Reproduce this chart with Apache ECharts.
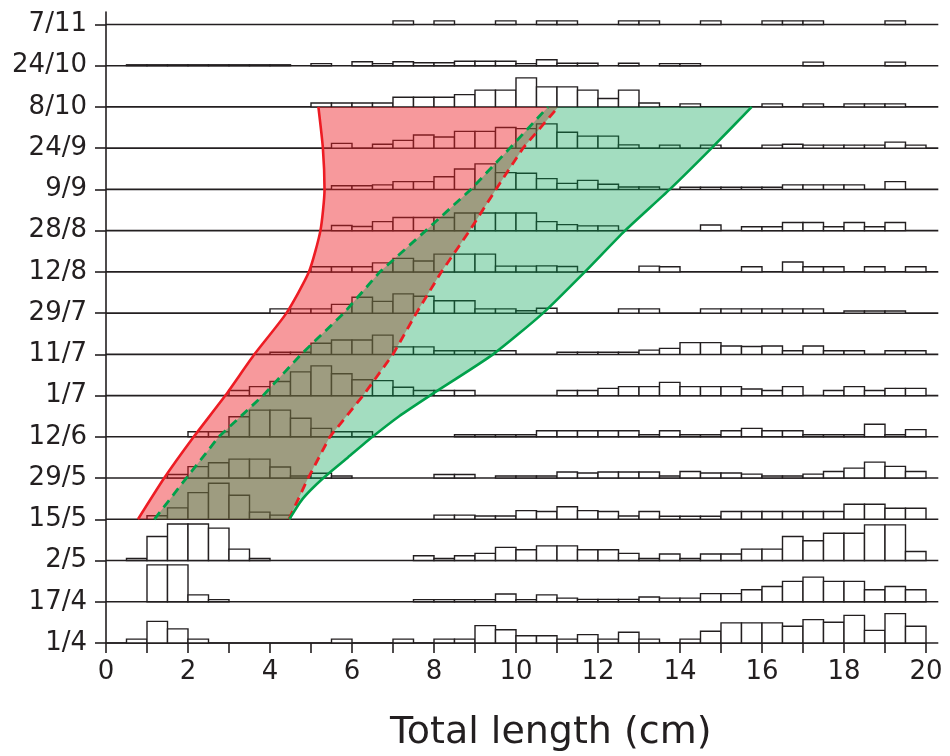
<!DOCTYPE html>
<html><head><meta charset="utf-8">
<script src="https://cdn.jsdelivr.net/npm/echarts@6/dist/echarts.min.js"></script>
<style>html,body{margin:0;padding:0;background:#fff}#c{width:950px;height:756px}</style>
</head><body><div id="c"></div>
<script>
// Sampling dates, bottom row first
const dates = ['1/4','17/4','2/5','15/5','29/5','12/6','1/7','11/7','29/7','12/8','28/8','9/9','24/9','8/10','24/10','7/11'];
const binWidth = 0.5; // cm, bins from 0 to 20
// Length-frequency values per 0.5 cm bin (40 bins), one array per date
const f_01_04 = [0,1.3,7.2,4.7,1.3, 0,0,0,0,0, 0,1.3,0,0,1.3, 0,1.3,1.3,5.8,4.4, 2.4,2.4,1.3,2.8,1.3, 3.6,1.3,0,1.3,3.9, 6.7,6.7,6.7,5.6,7.8, 6.9,9.2,4.2,9.8,5.6];
const f_17_04 = [0,0,12.3,12.3,2.3, 0.7,0,0,0,0, 0,0,0,0,0, 0.7,0.7,0.7,0.7,2.6, 0.7,2.3,1.2,0.8,0.8, 0.8,1.6,1.2,1.2,2.7, 2.7,4,5.1,6.8,8.2, 6.8,6.8,4,5.1,4];
const f_02_05 = [0,0.7,8,12.2,12.2, 10.8,3.8,0.7,0,0, 0,0,0,0,0, 1.6,0.7,1.6,2.4,4.4, 3.6,4.9,4.9,3.6,3.6, 2.4,0.7,2.2,0.7,2.2, 2.2,3.8,3.8,8,6.6, 9.1,9.1,11.9,11.9,3];
const f_15_05 = [0,0,1.2,3.8,8.9, 12,8,2.4,1.4,0, 0,0,0,0,0, 0,1.4,1.4,1.1,1.1, 2.9,2.6,4.2,2.9,2.6, 1.1,2.6,1,1,1, 2.6,2.6,2.6,2.6,2.6, 2.6,5,5,3.7,3.7];
const f_29_05 = [0,0,0,1.2,3.8, 5.1,6.3,6.3,3.7,0.7, 1.6,0.7,0,0,0, 0,1.2,1.2,0,0.7, 0.7,0.7,2,1.7,2, 2,2,0.7,2.2,1.7, 1.7,1.3,0.7,0.7,1.3, 2.2,3.3,5.3,3.9,2.2];
const f_12_06 = [0,0,0,0,1.7, 1.7,6.7,8.9,8.9,6.2, 2.8,1.7,1.7,0,0, 0,0,0.7,0.7,0.7, 0.7,2,2,2,2, 2,0.7,2,0.7,0.7, 2,2.8,2,2,0.7, 0.7,0.7,4.2,0.7,2.4];
const f_01_07 = [0,0,0,0,0, 0,1.7,3,4.7,7.9, 9.9,7.3,5.3,5,2.8, 1.7,1.7,1.7,0,0, 0,0,1.7,1.7,2.4, 3,3,4.4,3,3, 3,2.2,1.7,3,0, 1.7,3,1.7,2.4,2.4];
const f_11_07 = [0,0,0,0,0, 0,0,0,0.7,0.7, 3.7,4.8,4.8,6.4,2.5, 2.5,1.2,1.2,1.2,1.2, 0,0,0.7,0.7,0.7, 0.7,1.4,2,3.9,3.9, 2.8,2.6,2.8,1.2,2.8, 1.2,1.2,0,1.2,1.2];
const f_29_07 = [0,0,0,0,0, 0,0,0,1.4,1.4, 1.4,2.9,5.3,3.9,6.4, 5.6,4.1,4.1,1.4,1.4, 0.8,1.6,0,0,0, 1.4,1.4,0,0,1.4, 1.4,1.4,1.4,1.4,1.4, 0,0.7,0.7,0.7,0];
const f_12_08 = [0,0,0,0,0, 0,0,0,0,0, 1.7,1.7,1.7,3,4.5, 3.6,5.9,5.9,5.9,1.9, 1.9,2,1.8,0,0, 0,1.9,1.7,0,0, 0,1.7,0,3.3,1.7, 1.7,0,1.7,0,1.7];
const f_28_08 = [0,0,0,0,0, 0,0,0,0,0, 0,1.7,1.4,3,4.4, 4.4,4.4,5.9,5.9,5.9, 5.9,3,2,1.6,1.6, 0,0,0,0,1.9, 0,1.3,1.3,2.7,2.7, 1.3,2.7,1.3,2.7,0];
const f_09_09 = [0,0,0,0,0, 0,0,0,0,0, 0,1.2,1.2,1.5,2.6, 2.6,4.2,6.8,8.5,5.6, 5.4,3.6,2,3,1.7, 0.8,0.8,0,0.7,0.7, 0.7,0.7,0.7,1.5,1.5, 1.5,1.5,0,2.6,0];
const f_24_09 = [0,0,0,0,0, 0,0,0,0,0, 0,1.6,0,1.3,2.6, 4.4,3.7,5.6,5.6,6.9, 6.5,8.1,5.3,4,4, 1.1,0,1,0,1, 0,0,1,1.3,1, 1,1,1,2,1];
const f_08_10 = [0,0,0,0,0, 0,0,0,0,0, 1.3,1.3,1.3,1.3,3.2, 3.2,3.2,4.1,5.6,5.6, 9.7,6.7,6.7,5.6,2.8, 5.6,1.3,0,1,0, 0,0,1,0,1, 0,1,1,1,0];
const f_24_10 = [0,0.3,0.3,0.3,0.3, 0.3,0.3,0.3,0.3,0, 0.7,0,1.3,0.7,1.3, 1,1,1.5,1.5,1.5, 0.7,2,0.8,0.8,0, 0.8,0,0.7,0.7,0, 0,0,0,0,1.2, 0,0,0,1.2,0];
const f_07_11 = [0,0,0,0,0, 0,0,0,0,0, 0,0,0,0,1.2, 0,1.2,0,0,1.2, 0,1.2,1.2,0,0, 1.2,1.2,0,0,1.2, 0,0,1.2,1.2,1.2, 0,0,0,1.2,0];
const freqRows = [f_01_04,f_17_04,f_02_05,f_15_05,f_29_05,f_12_06,f_01_07,f_11_07,f_29_07,f_12_08,f_28_08,f_09_09,f_24_09,f_08_10,f_24_10,f_07_11];

// Cohort boundaries (cm) at the dates 15/5 ... 8/10 (row index 3..13)
const lineRows   = [3,4,5,6,7,8,9,10,11,12,13];
const redSolidX  = [0.78,1.42,2.14,2.91,3.62,4.4,4.95,5.23,5.33,5.29,5.18];
const redDashX   = [4.46,4.93,5.46,6.27,7.0,7.57,8.18,8.87,9.51,10.17,11.03];
const greenDashX = [1.18,1.96,2.75,3.83,4.76,5.8,6.68,7.8,8.9,9.85,10.78];
const greenSolidRows = [3,3.5,4,4.5,5,5.5,6,7,8,9,10,11,12,13];
const greenSolidX    = [4.47,4.8,5.3,5.9,6.5,7.15,7.9,9.44,10.66,11.68,12.66,13.75,14.77,15.75];

const xTickValues  = [0,1,2,3,4,5,6,7,8,9,10,11,12,13,14,15,16,17,18,19,20];
const xLabelValues = [0,2,4,6,8,10,12,14,16,18,20];

// layout constants
const ROW = 13.75;            // frequency units between two date baselines
const Y_MAX = 210.4;
const LINE_END = 20.3;
const INK = '#231f20';
const RED = '#ed1c24', GREEN = '#00a14b';

const barData = [];
freqRows.forEach((arr, r) => arr.forEach((v, i) => {
  if (v > 0) barData.push([i*binWidth, (i+1)*binWidth, r*ROW, v]);
}));
const baseData = dates.map((d, r) => [r*ROW]);

function pts(xs, rows){ return xs.map((x, i) => [x, rows[i]*ROW]); }
const redPoly = pts(redSolidX, lineRows).concat(pts(redDashX, lineRows).reverse());
const greenPoly = pts(greenDashX, lineRows).concat(pts(greenSolidX, greenSolidRows).reverse());

const chart = echarts.init(document.getElementById('c'), null, {renderer:'canvas'});
chart.setOption({
  animation: false,
  backgroundColor: '#fff',
  title: {
    text: 'Total length (cm)', left: 385, top: 709,
    textStyle: {fontFamily: 'DejaVu Sans', fontSize: 38, fontWeight: 'normal', color: INK}
  },
  grid: {left: 106, right: 24, top: 12, bottom: 113, containLabel: false, outerBoundsMode: 'none'},
  xAxis: {
    type: 'value', min: 0, max: 20,
    axisLine: {show: true, lineStyle: {color: INK, width: 1.6}},
    axisTick: {show: true, length: 10, customValues: xTickValues, lineStyle: {color: INK, width: 1.6}},
    axisLabel: {customValues: xLabelValues, fontFamily: 'DejaVu Sans', fontSize: 26, color: INK, margin: 16},
    splitLine: {show: false}
  },
  yAxis: {
    type: 'value', min: 0, max: Y_MAX,
    axisLine: {show: true, lineStyle: {color: INK, width: 1.6}},
    axisTick: {show: true, length: 11, customValues: dates.map((d, r) => r*ROW), lineStyle: {color: INK, width: 1.6}},
    axisLabel: {
      customValues: dates.map((d, r) => r*ROW),
      formatter: v => dates[Math.round(v/ROW)] || '',
      fontFamily: 'DejaVu Sans', fontSize: 26, color: INK, margin: 19
    },
    splitLine: {show: false}
  },
  series: [
    {
      type: 'custom', z: 1, data: baseData, silent: true,
      renderItem: (p, api) => {
        const b = api.value(0);
        const a = api.coord([0, b]), c = api.coord([LINE_END, b]);
        return {type: 'line', shape: {x1: a[0], y1: a[1], x2: c[0], y2: c[1]}, style: {stroke: INK, lineWidth: 1.6}};
      }
    },
    {
      type: 'custom', z: 2, data: barData, silent: true,
      renderItem: (p, api) => {
        const x0 = api.value(0), x1 = api.value(1), b = api.value(2), h = api.value(3);
        const p0 = api.coord([x0, b]), p1 = api.coord([x1, b + h]);
        return {type: 'rect', shape: {x: p0[0], y: p1[1], width: p1[0]-p0[0], height: p0[1]-p1[1]},
                style: {fill: '#fff', stroke: INK, lineWidth: 1.4}};
      }
    },
    {
      type: 'custom', z: 3, data: [[0]], silent: true,
      renderItem: (p, api) => ({type: 'polygon', shape: {points: redPoly.map(q => api.coord(q))},
        style: {fill: 'rgba(237,28,36,0.45)', stroke: null}})
    },
    {
      type: 'custom', z: 4, data: [[0]], silent: true,
      renderItem: (p, api) => ({type: 'polygon', shape: {points: greenPoly.map(q => api.coord(q))},
        style: {fill: 'rgba(0,160,80,0.36)', stroke: null}})
    },
    {type: 'line', z: 5, data: pts(redSolidX, lineRows), showSymbol: false, silent: true, smooth: 0.2,
     lineStyle: {color: RED, width: 2.6}},
    {type: 'line', z: 5, data: pts(redDashX, lineRows), showSymbol: false, silent: true,
     lineStyle: {color: RED, width: 2.8, type: [9, 6]}},
    {type: 'line', z: 5, data: pts(greenDashX, lineRows), showSymbol: false, silent: true,
     lineStyle: {color: GREEN, width: 2.8, type: [9, 6]}},
    {type: 'line', z: 5, data: pts(greenSolidX, greenSolidRows), showSymbol: false, silent: true, smooth: 0.2,
     lineStyle: {color: GREEN, width: 2.6}}
  ]
});
</script>
</body></html>
